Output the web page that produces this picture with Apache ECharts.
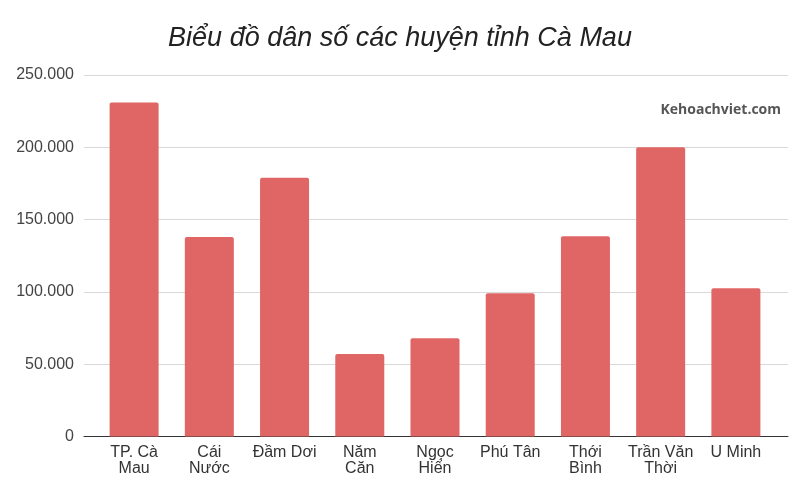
<!DOCTYPE html>
<html>
<head>
<meta charset="utf-8">
<script src="https://cdn.jsdelivr.net/npm/echarts@6/dist/echarts.min.js"></script>
<style>html,body{margin:0;padding:0;background:#fff}#c{width:800px;height:500px}</style>
</head>
<body>
<div id="c"></div>
<script>
var titleText = 'Biểu đồ dân số các huyện tỉnh Cà Mau';
var categories = ['TP. Cà\nMau', 'Cái\nNước', 'Đầm Dơi', 'Năm\nCăn', 'Ngọc\nHiển', 'Phú Tân', 'Thới\nBình', 'Trần Văn\nThời', 'U Minh'];
var population = [231000, 138000, 179000, 57000, 68000, 99000, 138500, 200000, 102500];
var yTicks = [0, 50000, 100000, 150000, 200000, 250000];
var watermark = 'Kehoachviet.com';

var chart = echarts.init(document.getElementById('c'), null, {renderer: 'canvas'});
var yMin = yTicks[0], yMax = yTicks[yTicks.length - 1], yStep = yTicks[1] - yTicks[0];
function fmt(v) { return String(v).replace(/\B(?=(\d{3})+(?!\d))/g, '.'); }
chart.setOption({
  animation: false,
  backgroundColor: '#ffffff',
  title: {
    text: titleText, left: 'center', top: 20,
    textStyle: {fontFamily: 'Liberation Sans, Arial, sans-serif', fontStyle: 'italic', fontWeight: 'normal', fontSize: 27, color: '#222222'}
  },
  graphic: [{
    type: 'text', right: 19, top: 103,
    style: {text: watermark, font: 'bold 14px "Open Sans", Roboto, sans-serif', fill: '#555555'}
  }],
  grid: [
    {left: 84, right: 12, top: 75, bottom: 63.5},
    {left: 96.5, right: 26.5, top: 75, bottom: 63.5}
  ],
  xAxis: [
    {gridIndex: 0, type: 'value', min: 0, max: 1, axisLabel: {show: false}, splitLine: {show: false}, axisTick: {show: false},
     axisLine: {show: true, lineStyle: {color: '#333333', width: 1}}},
    {gridIndex: 1, type: 'category', data: categories,
     axisLine: {show: false}, axisTick: {show: false},
     axisLabel: {interval: 0, margin: 8, color: '#333333', fontSize: 16, lineHeight: 16, fontFamily: 'Liberation Sans, Arial, sans-serif'}}
  ],
  yAxis: [
    {gridIndex: 0, type: 'value', min: yMin, max: yMax, interval: yStep,
     axisLine: {show: false}, axisTick: {show: false},
     axisLabel: {margin: 10, color: '#444444', fontSize: 16, fontFamily: 'Liberation Sans, Arial, sans-serif', formatter: fmt},
     splitLine: {show: true, lineStyle: {color: '#d9d9d9', width: 1}}},
    {gridIndex: 1, type: 'value', min: yMin, max: yMax, interval: yStep, show: false, splitLine: {show: false}}
  ],
  series: [{
    type: 'bar', xAxisIndex: 1, yAxisIndex: 1, data: population,
    barWidth: 49,
    itemStyle: {color: '#e06666', borderRadius: [2, 2, 0, 0]}
  }]
});
</script>
</body>
</html>
